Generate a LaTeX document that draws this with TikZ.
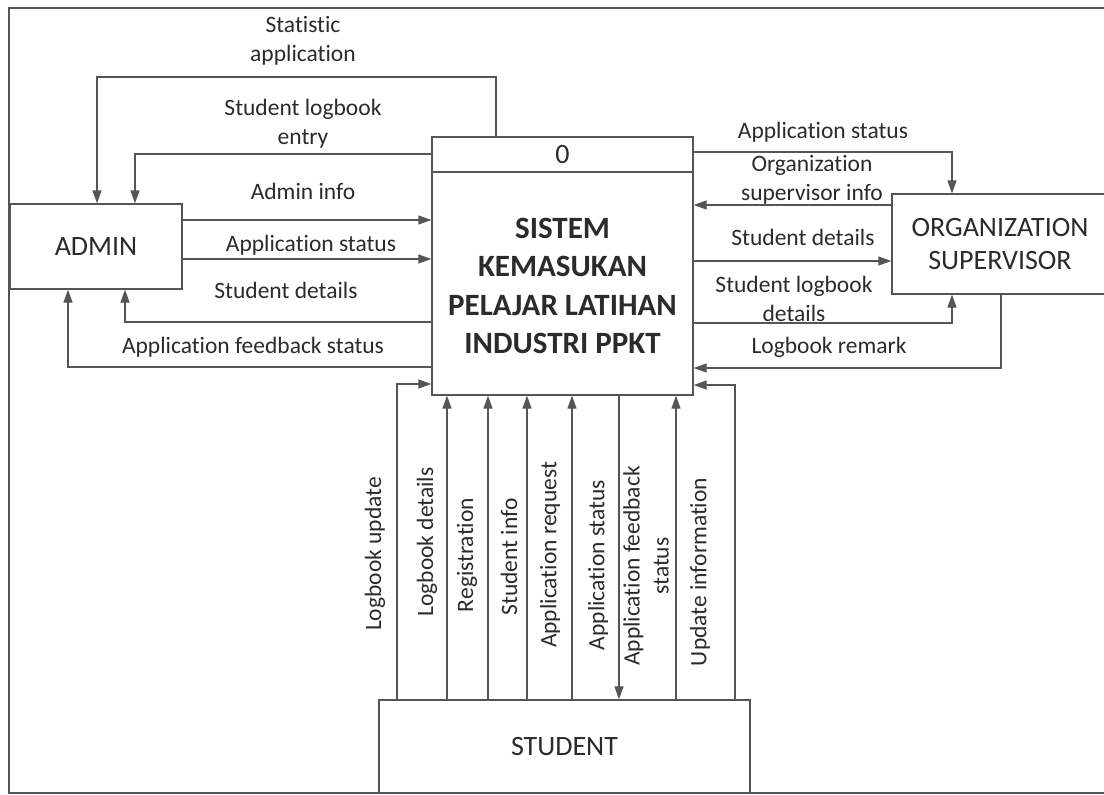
\documentclass[tikz,border=0pt]{standalone}
\usepackage{fontspec}
\setmainfont{Carlito}[Ligatures=CommonOff]
\usetikzlibrary{arrows.meta}
\definecolor{linegray}{HTML}{555555}
\definecolor{inkgray}{HTML}{2B2B2B}
\begin{document}
\begin{tikzpicture}[x=1pt,y=-1pt,
  every node/.style={text=inkgray},
  entity/.style={draw=linegray, line width=1.3pt, rectangle, inner sep=0pt,
    align=center, font=\fontsize{28}{33}\selectfont},
  process/.style={draw=linegray, line width=1.3pt, rectangle, inner sep=0pt},
  flow/.style={draw=linegray, line width=1.3pt,
    -{Triangle[length=13pt,width=9pt,fill=linegray]}},
  lbl/.style={align=center, inner sep=0pt, font=\fontsize{23.5}{29}\selectfont},
  vlbl/.style={lbl, rotate=90}]

\useasboundingbox (0,0) rectangle (1104,795);
\fill[white] (0,0) rectangle (1104,795);

% page frame
\draw[linegray, line width=1.2pt] (1104,8) -- (9,8) -- (9,793) -- (1104,793);

% external entities and the central process
\node[entity, minimum width=172pt, minimum height=85pt] (admin) at (96,246.5) {ADMIN};
\node[entity, minimum width=216pt, minimum height=100pt] (org) at (1000,244) {ORGANIZATION\\SUPERVISOR};
\node[entity, minimum width=371pt, minimum height=93pt] (student) at (564.5,746.5) {STUDENT};
\node[process, minimum width=261pt, minimum height=258pt] (sys) at (562.5,266) {};
\draw[linegray, line width=1.3pt] (sys.west |- 0,172) -- (sys.east |- 0,172);
\node[font=\fontsize{28}{33}\selectfont] (pid) at (562.5,155) {0};
\node[align=center, font=\fontsize{31}{38.5}\selectfont\bfseries] (ptitle) at (562.5,286)
  {SISTEM\\KEMASUKAN\\PELAJAR LATIHAN\\INDUSTRI PPKT};

% flows between ADMIN and the system
\draw[flow] (sys.north -| 496,0) -- (496,77) -| (admin.north -| 97,0);
\draw[flow] (sys.west |- 0,154) -| (admin.north -| 135,0);
\draw[flow] (admin.east |- 0,220) -- (sys.west |- 0,220);
\draw[flow] (admin.east |- 0,259) -- (sys.west |- 0,259);
\draw[flow] (sys.west |- 0,322) -| (admin.south -| 125,0);
\draw[flow] (sys.west |- 0,367) -| (admin.south -| 68,0);

\node[lbl] (l1) at (303,41) {Statistic\\application};
\node[lbl] (l2) at (303,124) {Student logbook\\entry};
\node[lbl] (l3) at (303,191) {Admin info};
\node[lbl] (l4) at (311,245) {Application status};
\node[lbl] (l5) at (286,290) {Student details};
\node[lbl] (l6) at (253,347) {Application feedback status};

% flows between ORGANIZATION SUPERVISOR and the system
\draw[flow] (sys.east |- 0,152) -| (org.north -| 952,0);
\draw[flow] (org.west |- 0,205) -- (sys.east |- 0,205);
\draw[flow] (sys.east |- 0,261) -- (org.west |- 0,261);
\draw[flow] (sys.east |- 0,323) -| (org.south -| 952,0);
\draw[flow] (org.south -| 1001,0) |- (sys.east |- 0,368);

\node[lbl] (r1) at (823,132) {Application status};
\node[lbl] (r2) at (812,179.5) {Organization\\supervisor info};
\node[lbl] (r3) at (803,237) {Student details};
\node[lbl] (r4) at (794,299) {Student logbook\\details};
\node[lbl] (r5) at (829,347) {Logbook remark};

% flows between STUDENT and the system
\draw[flow] (student.north -| 397,0) |- (sys.west |- 0,384);
\draw[flow] (student.north -| 447,0) -- (sys.south -| 447,0);
\draw[flow] (student.north -| 488,0) -- (sys.south -| 488,0);
\draw[flow] (student.north -| 527,0) -- (sys.south -| 527,0);
\draw[flow] (student.north -| 572,0) -- (sys.south -| 572,0);
\draw[flow] (sys.south -| 619,0) -- (student.north -| 619,0);
\draw[flow] (student.north -| 676,0) -- (sys.south -| 676,0);
\draw[flow] (student.north -| 735,0) |- (sys.east |- 0,385);

\node[vlbl] (b1) at (375,554) {Logbook update};
\node[vlbl] (b2) at (427,542) {Logbook details};
\node[vlbl] (b3) at (467,555) {Registration};
\node[vlbl] (b4) at (509,557) {Student info};
\node[vlbl] (b5) at (550,555) {Application request};
\node[vlbl] (b6) at (598,565) {Application status};
\node[vlbl] (b7) at (646,566) {Application feedback\\status};
\node[vlbl] (b8) at (700,572) {Update information};
\end{tikzpicture}
\end{document}
